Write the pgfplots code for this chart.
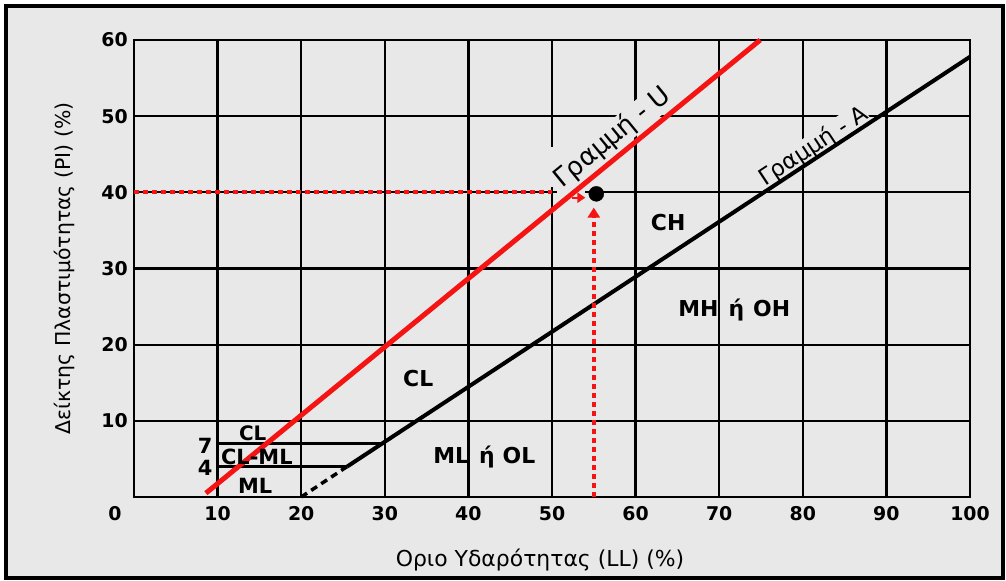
\documentclass[border=0pt]{standalone}
\usepackage{fontspec}
\setmainfont{DejaVu Sans}
\usepackage{pgfplots}
\pgfplotsset{compat=1.18}
\usetikzlibrary{arrows.meta}
\definecolor{bg}{gray}{0.91}
\definecolor{ured}{RGB}{245,20,20}
\begin{document}
\begin{tikzpicture}
\path[use as bounding box] (0,0) rectangle (1006bp,581bp);
\fill[white] (0,0) rectangle (1006bp,581bp);
\fill[bg] (6bp,3bp) rectangle (1003bp,575bp);
\draw[black, line width=3.5bp] (6bp,3bp) rectangle (1003bp,575bp);
\begin{axis}[
  at={(134bp,84bp)}, anchor=south west,
  width=836bp, height=457bp, scale only axis,
  xmin=0, xmax=100, ymin=0, ymax=60,
  clip=false,
  xtick={10,20,...,100}, ytick={10,20,...,60},
  grid=major, grid style={black, line width=2.3bp},
  axis line style={black, line width=2.3bp},
  major tick length=0pt,
  /pgf/number format/assume math mode=true,
  tick label style={font=\fontsize{19}{19}\selectfont\bfseries},
  xticklabel style={anchor=center, yshift=-17bp},
  yticklabel style={anchor=east, inner sep=0pt, xshift=-6bp},
  xlabel={Οριο Υδαρότητας (LL) (\%)},
  ylabel={Δείκτης Πλαστιμότητας (PI) (\%)},
  xlabel style={font=\fontsize{22}{22}\selectfont, at={([xshift=-12bp,yshift=-63bp]axis description cs:0.5,0)}, anchor=center},
  ylabel style={font=\fontsize{20.5}{20.5}\selectfont, at={([xshift=-70bp]axis description cs:0,0.5)}, anchor=center},
]
% gaps in grid
\addplot[bg, line width=3.5bp, forget plot] coordinates {(50.6,40) (54,40)};
\addplot[bg, line width=3.5bp, forget plot] coordinates {(50,40.7) (50,46)};
% labels with background (drawn before lines)
\addplot[draw=none, forget plot] coordinates {(8.6,0.5) (74.9,60)}
  node[pos=0.754, sloped, above=4bp, fill=bg, inner sep=1bp, font=\fontsize{26}{26}\selectfont] {Γραμμή - U};
\addplot[draw=none, forget plot] coordinates {(25.5,4) (100,57.8)}
  node[pos=0.758, sloped, above=-2bp, fill=bg, inner sep=1bp, font=\fontsize{23}{23}\selectfont] {Γραμμή - A};
% small horizontal lines PI=4 and PI=7
\addplot[black, line width=2.8bp, forget plot] coordinates {(10,7) (29.6,7)};
\addplot[black, line width=2.8bp, forget plot] coordinates {(10,4) (25.5,4)};
% A-line
\addplot[black, line width=4bp, forget plot] coordinates {(25.5,4) (100,57.8)};
\addplot[black, line width=3.5bp, dash pattern=on 7bp off 5bp, forget plot] coordinates {(20,0) (25.5,4)};
% reading lines
\addplot[ured, line width=3.8bp, dash pattern=on 5bp off 4bp, forget plot] coordinates {(0,40) (50,40)};
\addplot[ured, line width=3.8bp, dash pattern=on 5bp off 4bp, -{Triangle[length=10bp,width=12bp]}, forget plot] coordinates {(55,0) (55,38)};
\addplot[ured, line width=2bp, -{Triangle[length=8bp,width=10bp]}, forget plot] coordinates {(52.4,39.3) (54.0,39.3)};
% U-line
\addplot[ured, line width=5bp, forget plot] coordinates {(8.6,0.5) (74.9,60)};
% point
\addplot[only marks, mark=*, mark size=7.5bp, black, forget plot] coordinates {(55.3,39.8)};
% region labels
\node[font=\fontsize{22}{22}\selectfont\bfseries] at (axis cs:63.9,36.0) {CH};
\node[font=\fontsize{22}{22}\selectfont\bfseries] at (axis cs:71.8,24.5) {MH\hspace{10bp}ή\hspace{9bp}OH};
\node[font=\fontsize{22}{22}\selectfont\bfseries] at (axis cs:34.0,15.6) {CL};
\node[font=\fontsize{22}{22}\selectfont\bfseries] at (axis cs:41.9,5.2) {ML\hspace{10bp}ή\hspace{8bp}OL};
\node[font=\fontsize{20}{20}\selectfont\bfseries] at (axis cs:14.2,8.4) {CL};
\node[font=\fontsize{21}{21}\selectfont\bfseries] at (axis cs:14.7,5.3) {CL-ML};
\node[font=\fontsize{21}{21}\selectfont\bfseries] at (axis cs:14.5,1.5) {ML};
\node[font=\fontsize{21}{21}\selectfont\bfseries] at (axis cs:8.5,6.7) {7};
\node[font=\fontsize{21}{21}\selectfont\bfseries] at (axis cs:8.5,3.8) {4};
\node[font=\fontsize{19}{19}\selectfont\bfseries] at ([xshift=-19bp,yshift=-17bp]axis cs:0,0) {0};
\end{axis}
\end{tikzpicture}
\end{document}
